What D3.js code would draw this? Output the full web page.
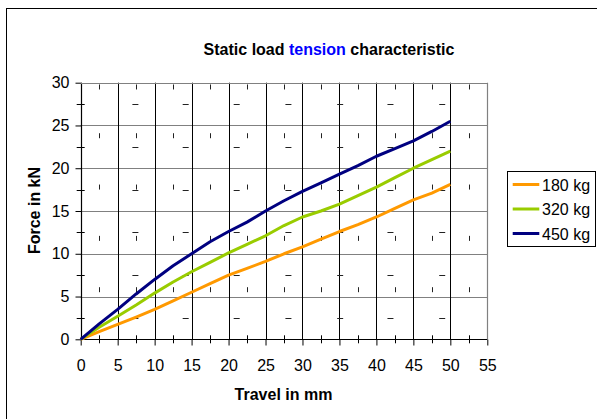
<!DOCTYPE html>
<html>
<head>
<meta charset="utf-8">
<script src="https://cdn.jsdelivr.net/npm/d3@7"></script>
<style>
  html, body { margin: 0; padding: 0; background: #fff; }
  svg { display: block; font-family: "Liberation Sans", Arial, sans-serif; }
</style>
</head>
<body>
<svg id="chart" width="597" height="419"></svg>
<script>
// ---- data ----
const travel = [0, 2.5, 5, 7.5, 10, 12.5, 15, 17.5, 20, 22.5, 25, 27.5, 30, 32.5, 35, 37.5, 40, 42.5, 45, 47.5, 50];
const force180 = [0, 0.9, 1.75, 2.6, 3.5, 4.5, 5.5, 6.5, 7.5, 8.3, 9.1, 10.0, 10.8, 11.7, 12.6, 13.4, 14.3, 15.3, 16.3, 17.1, 18.1];
const force320 = [0, 1.4, 2.7, 4.0, 5.4, 6.7, 7.9, 9.0, 10.1, 11.1, 12.1, 13.3, 14.3, 15.0, 15.8, 16.8, 17.8, 18.9, 20.0, 21.0, 22.0];
const force450 = [0, 1.8, 3.5, 5.3, 7.0, 8.6, 10.0, 11.4, 12.6, 13.7, 15.0, 16.2, 17.3, 18.3, 19.3, 20.3, 21.4, 22.3, 23.2, 24.3, 25.5];
const seriesNames = ["180 kg", "320 kg", "450 kg"];
const seriesColors = ["#FF9900", "#99CC00", "#000080"];
const xTicks = [0, 5, 10, 15, 20, 25, 30, 35, 40, 45, 50, 55];
const yTicks = [0, 5, 10, 15, 20, 25, 30];
const xMinor = [2.5, 7.5, 12.5, 17.5, 22.5, 27.5, 32.5, 37.5, 42.5, 47.5, 52.5];
const yMinor = [2.5, 7.5, 12.5, 17.5, 22.5, 27.5];
// stray minor-gridline marks visible in the original rendering
const markY = [29.5, 23.8, 17.8, 11.8, 5.8];
const dashX = [7.4, 14.2, 21.1, 28.1, 35.1, 41.9, 48.9];

const svg = d3.select("#chart");
const L = 80.7, R = 487.3, T = 82.7, B = 339.3;
const x = d3.scaleLinear().domain([0, 55]).range([L, R]);
const y = d3.scaleLinear().domain([0, 30]).range([B, T]);

// outer chart border (left & top visible)
svg.append("rect").attr("x", 6.5).attr("y", 8.5).attr("width", 700).attr("height", 600)
  .attr("fill", "none").attr("stroke", "#000").attr("stroke-width", 1);

// title
const title = svg.append("text").attr("x", 329).attr("y", 54.5).attr("text-anchor", "middle")
  .attr("font-size", 16).attr("font-weight", "bold").attr("fill", "#000");
title.append("tspan").text("Static load ");
title.append("tspan").attr("fill", "#0000FF").text("tension");
title.append("tspan").text(" characteristic");

// horizontal gridlines (gray)
svg.append("g").selectAll("line").data(yTicks.filter(d => d > 0)).join("line")
  .attr("x1", L).attr("x2", R).attr("y1", d => Math.round(y(d)) + 0.5).attr("y2", d => Math.round(y(d)) + 0.5)
  .attr("stroke", "#808080").attr("stroke-width", 1.2);
// vertical gridlines (black)
svg.append("g").selectAll("line").data(xTicks.filter(d => d > 0 && d < 55)).join("line")
  .attr("y1", T).attr("y2", B).attr("x1", d => Math.round(x(d)) + 0.5).attr("x2", d => Math.round(x(d)) + 0.5)
  .attr("stroke", "#000").attr("stroke-width", 1);
// right border (gray)
svg.append("line").attr("x1", Math.round(R) + 0.5).attr("x2", Math.round(R) + 0.5).attr("y1", T).attr("y2", B)
  .attr("stroke", "#808080").attr("stroke-width", 1.2);

// stray marks
const marks = svg.append("g").attr("stroke", "#222").attr("stroke-width", 1);
xMinor.forEach(mx => markY.forEach(my => {
  marks.append("line").attr("x1", Math.round(x(mx)) + 0.5).attr("x2", Math.round(x(mx)) + 0.5)
    .attr("y1", y(my) - 2.5).attr("y2", y(my) + 2.5);
}));
dashX.forEach(dx => yMinor.forEach(dy => {
  marks.append("line").attr("x1", x(dx) - 3).attr("x2", x(dx) + 3)
    .attr("y1", Math.round(y(dy)) + 0.5).attr("y2", Math.round(y(dy)) + 0.5);
}));

// axes
const xAxis = svg.append("g").attr("transform", `translate(0,${Math.round(B) + 0.5})`)
  .call(d3.axisBottom(x).tickValues(xTicks).tickSize(6).tickPadding(25).tickFormat(d3.format("d")));
const yAxis = svg.append("g").attr("transform", `translate(${Math.round(L) + 0.5},0)`)
  .call(d3.axisLeft(y).tickValues(yTicks).tickSize(6).tickPadding(6).tickFormat(d3.format("d")));
[xAxis, yAxis].forEach(a => {
  a.select(".domain").attr("stroke", "#000").attr("stroke-width", 1.2);
  a.selectAll(".tick line").attr("stroke", "#000");
  a.selectAll(".tick text").attr("font-size", 16).attr("fill", "#000")
    .attr("font-family", "'Liberation Sans', Arial, sans-serif");
});
xAxis.select(".domain").attr("d", `M${L},0H${R}`);
yAxis.select(".domain").attr("d", `M0,${T}V${B}`);
xAxis.selectAll(".tick text").attr("dy", "0");
// top border (gray)
svg.append("line").attr("x1", L).attr("x2", R + 0.5).attr("y1", Math.round(T) + 0.5).attr("y2", Math.round(T) + 0.5)
  .attr("stroke", "#808080").attr("stroke-width", 1.2);

// minor ticks crossing axes
svg.append("g").selectAll("line").data(xMinor).join("line")
  .attr("x1", d => Math.round(x(d)) + 0.5).attr("x2", d => Math.round(x(d)) + 0.5)
  .attr("y1", B - 4).attr("y2", B + 4).attr("stroke", "#000");
svg.append("g").selectAll("line").data(yMinor).join("line")
  .attr("y1", d => Math.round(y(d)) + 0.5).attr("y2", d => Math.round(y(d)) + 0.5)
  .attr("x1", L - 4).attr("x2", L + 4).attr("stroke", "#000");

// axis titles
svg.append("text").attr("x", 283.5).attr("y", 400).attr("text-anchor", "middle")
  .attr("font-size", 16).attr("font-weight", "bold").text("Travel in mm");
svg.append("text").attr("transform", "translate(40,210.5) rotate(-90)").attr("text-anchor", "middle")
  .attr("font-size", 16).attr("font-weight", "bold").text("Force in kN");

// lines
const allSeries = [force180, force320, force450];
const line = d3.line().x((d, i) => x(travel[i])).y(d => y(d));
allSeries.forEach((s, k) => {
  svg.append("path").datum(s).attr("d", line).attr("fill", "none")
    .attr("stroke", seriesColors[k]).attr("stroke-width", 3).attr("stroke-linejoin", "round");
});

// legend
const lg = svg.append("g");
lg.append("rect").attr("x", 507.5).attr("y", 171.5).attr("width", 88).attr("height", 75)
  .attr("fill", "#fff").attr("stroke", "#000").attr("stroke-width", 1);
seriesNames.forEach((n, i) => {
  const cy = 184.5 + i * 24.5;
  lg.append("line").attr("x1", 512.7).attr("x2", 539.3).attr("y1", cy).attr("y2", cy)
    .attr("stroke", seriesColors[i]).attr("stroke-width", 3);
  lg.append("text").attr("x", 542).attr("y", cy + 6).attr("font-size", 16).attr("fill", "#000").text(n);
});
</script>
</body>
</html>
